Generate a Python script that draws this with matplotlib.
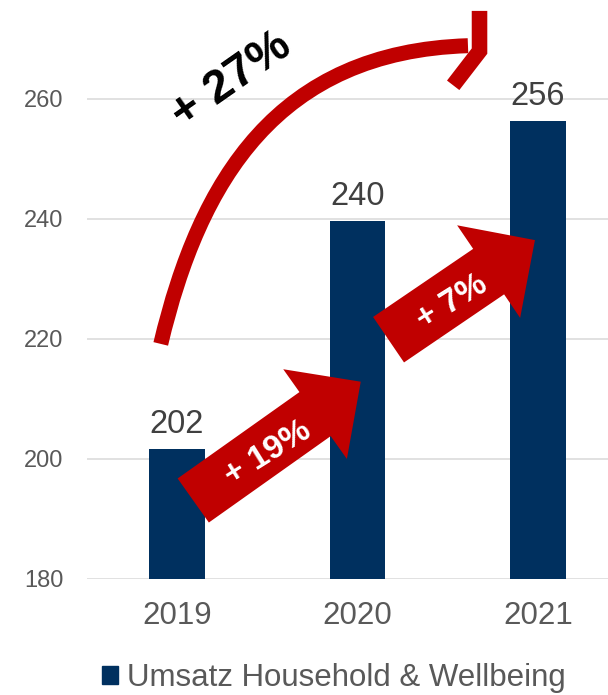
import matplotlib
matplotlib.use('Agg')
import matplotlib.pyplot as plt
from matplotlib.path import Path
from matplotlib.patches import PathPatch, Polygon, Patch
import numpy as np

years = ['2019', '2020', '2021']
umsatz = [201.6, 239.6, 256.2]
y_ticks = [180, 200, 220, 240, 260]
series_name = 'Umsatz Household & Wellbeing'
step_labels = ['+ 19%', '+ 7%']
total_label = '+ 27%'

navy = '#00305F'
red = '#C00000'
grey = '#595959'

plt.rcParams['font.family'] = ['Liberation Sans', 'DejaVu Sans']

W, H = 608, 695
fig = plt.figure(figsize=(W / 100, H / 100), dpi=100)
ax = fig.add_axes([86.75 / W, (H - 578.5) / H, (W - 86.75) / W, 578.5 / H])

x = np.arange(len(years))
ax.bar(x, umsatz, width=0.31, color=navy, zorder=2)
ax.set_xlim(-0.5, -0.5 + (W - 86.75) / 180.5)
ax.set_ylim(180, 180 + 578.5 / 6)
ax.set_xticks(x, years)
ax.set_yticks(y_ticks)
ax.tick_params(axis='y', length=0, pad=17, labelsize=17, labelcolor=grey)
ax.tick_params(axis='x', length=0, pad=16, labelsize=22.5, labelcolor=grey)
ax.yaxis.grid(True, color='#D9D9D9', lw=1.1)
ax.set_axisbelow(True)
for s in ax.spines.values():
    s.set_visible(False)

# value labels
for xi, v in zip(x, umsatz):
    ax.annotate(f'{v:.0f}', (xi, v), xytext=(0, 11.5), textcoords='offset points',
                ha='center', va='baseline', fontsize=23.5, color='#404040')


def block_arrow(start, end, shaft=54, head_w=110, head_len=56):
    # sizes in pixels, end points in data units
    p0 = ax.transData.transform(start)
    p1 = ax.transData.transform(end)
    d = p1 - p0
    u = d / np.hypot(*d)
    n = np.array([-u[1], u[0]])
    neck = p1 - u * head_len
    pts = [p0 + n * shaft / 2, neck + n * shaft / 2, neck + n * head_w / 2, p1,
           neck - n * head_w / 2, neck - n * shaft / 2, p0 - n * shaft / 2]
    pts = ax.transData.inverted().transform(pts)
    ax.add_patch(Polygon(pts, closed=True, color=red, lw=0, zorder=3, clip_on=False))


block_arrow((0.09, 193.0), (1.018, 212.8))
block_arrow((1.172, 219.8), (1.983, 236.4), shaft=55, head_w=112)
ax.text(0.506, 200.9, step_labels[0], rotation=32, ha='center', va='center',
        fontsize=24, fontweight='bold', color='white', zorder=4)
ax.text(1.526, 226.1, step_labels[1], rotation=32, ha='center', va='center',
        fontsize=24, fontweight='bold', color='white', zorder=4)

# curved total arrow
arc = Path([(-0.09, 219.1), (0.127, 246.6), (0.560, 267.8), (1.612, 268.8)],
           [Path.MOVETO, Path.CURVE4, Path.CURVE4, Path.CURVE4])
ax.add_patch(PathPatch(arc, fill=False, edgecolor=red, lw=10.8, capstyle='butt',
                       zorder=3, clip_on=False))
ax.plot([1.676, 1.676, 1.530], [274.6, 267.9, 262.2], color=red, lw=11.2,
        solid_joinstyle='miter', solid_capstyle='butt', zorder=3, clip_on=False)
ax.text(0.30, 263.1, total_label, rotation=35, ha='center', va='center',
        fontsize=34, fontweight='bold', color='black', zorder=4)

handle = Patch(color=navy, label=series_name)
ax.legend(handles=[handle], loc='center', bbox_to_anchor=(0.549, 0.0245),
          bbox_transform=fig.transFigure, frameon=False, fontsize=22.5,
          handlelength=0.51, handleheight=0.51, handletextpad=0.3,
          labelcolor=grey, borderaxespad=0, borderpad=0)

fig.savefig('out.png', dpi=100)
